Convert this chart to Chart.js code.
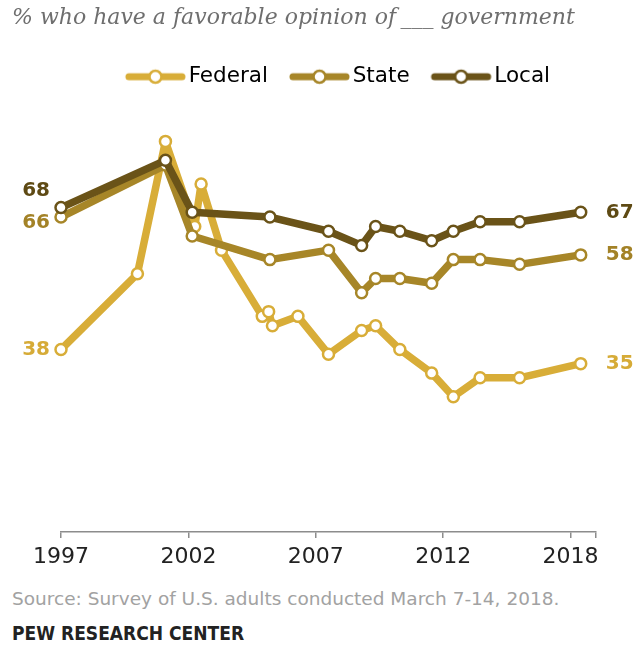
<!DOCTYPE html>
<html>
<head>
<meta charset="utf-8">
<script src="https://cdn.jsdelivr.net/npm/chart.js@4.4.1/dist/chart.umd.min.js"></script>
<style>
html, body { margin: 0; padding: 0; background: #fff; }
#wrap { position: relative; width: 635px; height: 648px; overflow: hidden; }
#chart-box { position: absolute; left: 0; top: 0; width: 635px; height: 580px; }
#chart-title { position: absolute; left: 12px; top: 4px; font-family: "DejaVu Serif"; font-style: italic; font-size: 22px; color: #6e6e6e; white-space: nowrap; }
#chart-source { position: absolute; left: 12px; top: 588px; font-family: "DejaVu Sans"; font-size: 18.5px; color: #a2a2a2; white-space: nowrap; }
#chart-org { position: absolute; left: 12px; top: 622px; font-family: "DejaVu Sans Condensed", "DejaVu Sans"; font-weight: bold; font-size: 19px; color: #222; white-space: nowrap; }
</style>
</head>
<body>
<div id="wrap">
  <div id="chart-box"><canvas id="fav-chart"></canvas></div>
  <div id="chart-title">% who have a favorable opinion of&thinsp;___ government</div>
  <div id="chart-source">Source: Survey of U.S. adults conducted March 7-14, 2018.</div>
  <div id="chart-org">PEW RESEARCH CENTER</div>
</div>
<script>
// 數據
var seriesNames = ['Federal', 'State', 'Local'];
var federalYears = [1997.0, 2000.0, 2001.1, 2002.25, 2002.5, 2003.3, 2004.9, 2005.15, 2005.3, 2006.3, 2007.5, 2008.8, 2009.35, 2010.3, 2011.55, 2012.4, 2013.45, 2015.0, 2017.4];
var federalValues = [38, 54, 82, 64, 73, 59, 45, 46, 43, 45, 37, 42, 43, 38, 33, 28, 32, 32, 35];
var stateYears = [1997.0, 2001.1, 2002.15, 2005.2, 2007.5, 2008.8, 2009.35, 2010.3, 2011.55, 2012.4, 2013.45, 2015.0, 2017.4];
var stateValues = [66, 77, 62, 57, 59, 50, 53, 53, 52, 57, 57, 56, 58];
var localYears = [1997.0, 2001.1, 2002.15, 2005.2, 2007.5, 2008.8, 2009.35, 2010.3, 2011.55, 2012.4, 2013.45, 2015.0, 2017.4];
var localValues = [68, 78, 67, 66, 63, 60, 64, 63, 61, 63, 65, 65, 67];
var tickYears = [1997, 2002, 2007, 2012, 2017, 2018];
var tickLabels = ['1997', '2002', '2007', '2012', '2018', ''];

// 樣式
var lineColors = ['#d8ad38', '#a78628', '#6a5318'];
var labelColors = ['#d6ab37', '#a38227', '#5e4a14'];
var firstLabelShift = [0, 6, -17];

function toPoints(xs, ys) {
    return xs.map(function(x, i) { return { x: x, y: ys[i] }; });
}

// 圖例圖示：線段加空心圓
function makeLegendIcon(color) {
    var c = document.createElement('canvas');
    c.width = 72;
    c.height = 18;
    var g = c.getContext('2d');
    g.strokeStyle = color;
    g.lineCap = 'round';
    g.lineWidth = 7;
    g.beginPath();
    g.moveTo(13, 9);
    g.lineTo(66, 9);
    g.stroke();
    g.beginPath();
    g.arc(39.5, 9, 6, 0, Math.PI * 2);
    g.fillStyle = '#fff';
    g.fill();
    g.lineWidth = 2.5;
    g.stroke();
    return c;
}

var legendIcons = lineColors.map(makeLegendIcon);

// 兩端數值標籤
var endLabelPlugin = {
    id: 'endLabels',
    afterDatasetsDraw: function(chart) {
        var ctx = chart.ctx;
        var xs = chart.scales.x;
        var ys = chart.scales.y;
        ctx.save();
        ctx.font = 'bold 20px "DejaVu Sans"';
        ctx.textBaseline = 'middle';
        chart.data.datasets.forEach(function(ds, i) {
            var first = ds.data[0];
            var last = ds.data[ds.data.length - 1];
            ctx.fillStyle = labelColors[i];
            ctx.textAlign = 'right';
            ctx.fillText(String(first.y), xs.getPixelForValue(first.x) - 11, ys.getPixelForValue(first.y) + firstLabelShift[i]);
            ctx.textAlign = 'left';
            ctx.fillText(String(last.y), xs.getPixelForValue(last.x) + 25, ys.getPixelForValue(last.y));
        });
        ctx.restore();
    }
};

var datasets = [
    { label: seriesNames[0], data: toPoints(federalYears, federalValues), order: 2 },
    { label: seriesNames[1], data: toPoints(stateYears, stateValues), order: 1 },
    { label: seriesNames[2], data: toPoints(localYears, localValues), order: 0 }
].map(function(ds, i) {
    ds.borderColor = lineColors[i];
    ds.backgroundColor = lineColors[i];
    ds.borderWidth = 7.5;
    ds.borderJoinStyle = 'round';
    ds.pointRadius = 5.5;
    ds.pointHoverRadius = 5.5;
    ds.pointBorderWidth = 2.5;
    ds.pointBackgroundColor = '#fff';
    ds.pointBorderColor = lineColors[i];
    ds.tension = 0;
    ds.clip = false;
    return ds;
});

var ctx = document.getElementById('fav-chart').getContext('2d');
var favChart = new Chart(ctx, {
    type: 'line',
    data: { datasets: datasets },
    options: {
        responsive: true,
        maintainAspectRatio: false,
        animation: false,
        layout: { padding: { left: 41, right: 0, top: 44, bottom: 0 } },
        scales: {
            x: {
                type: 'linear',
                min: 1997,
                max: 2018,
                afterBuildTicks: function(axis) {
                    axis.ticks = tickYears.map(function(v) { return { value: v }; });
                },
                afterFit: function(axis) { axis.height = 48; },
                border: { display: true, color: '#8c8c8c', width: 1.5 },
                grid: { display: true, drawOnChartArea: false, drawTicks: true, tickLength: 6, color: '#8c8c8c', lineWidth: 1.5 },
                ticks: {
                    autoSkip: false,
                    maxRotation: 0,
                    padding: 6,
                    color: '#222',
                    font: { family: 'DejaVu Sans', size: 22 },
                    callback: function(value, index) { return tickLabels[index]; }
                }
            },
            y: {
                min: -0.6,
                max: 91.28,
                afterFit: function(axis) { axis.width = 20; },
                grid: { display: false },
                border: { display: false },
                ticks: { display: false }
            },
            y2: {
                position: 'right',
                afterFit: function(axis) { axis.width = 39; },
                grid: { display: false },
                border: { display: false },
                ticks: { display: false }
            }
        },
        plugins: {
            legend: {
                position: 'top',
                labels: {
                    usePointStyle: true,
                    pointStyleWidth: 52,
                    padding: 22,
                    color: '#222',
                    font: { family: 'DejaVu Sans', size: 21.5 },
                    generateLabels: function(chart) {
                        return chart.data.datasets.map(function(ds, i) {
                            return {
                                text: ds.label,
                                pointStyle: legendIcons[i],
                                fillStyle: lineColors[i],
                                strokeStyle: lineColors[i],
                                lineWidth: 0,
                                hidden: false,
                                datasetIndex: i
                            };
                        });
                    }
                }
            },
            tooltip: { enabled: false }
        }
    },
    plugins: [endLabelPlugin]
});
</script>
</body>
</html>
